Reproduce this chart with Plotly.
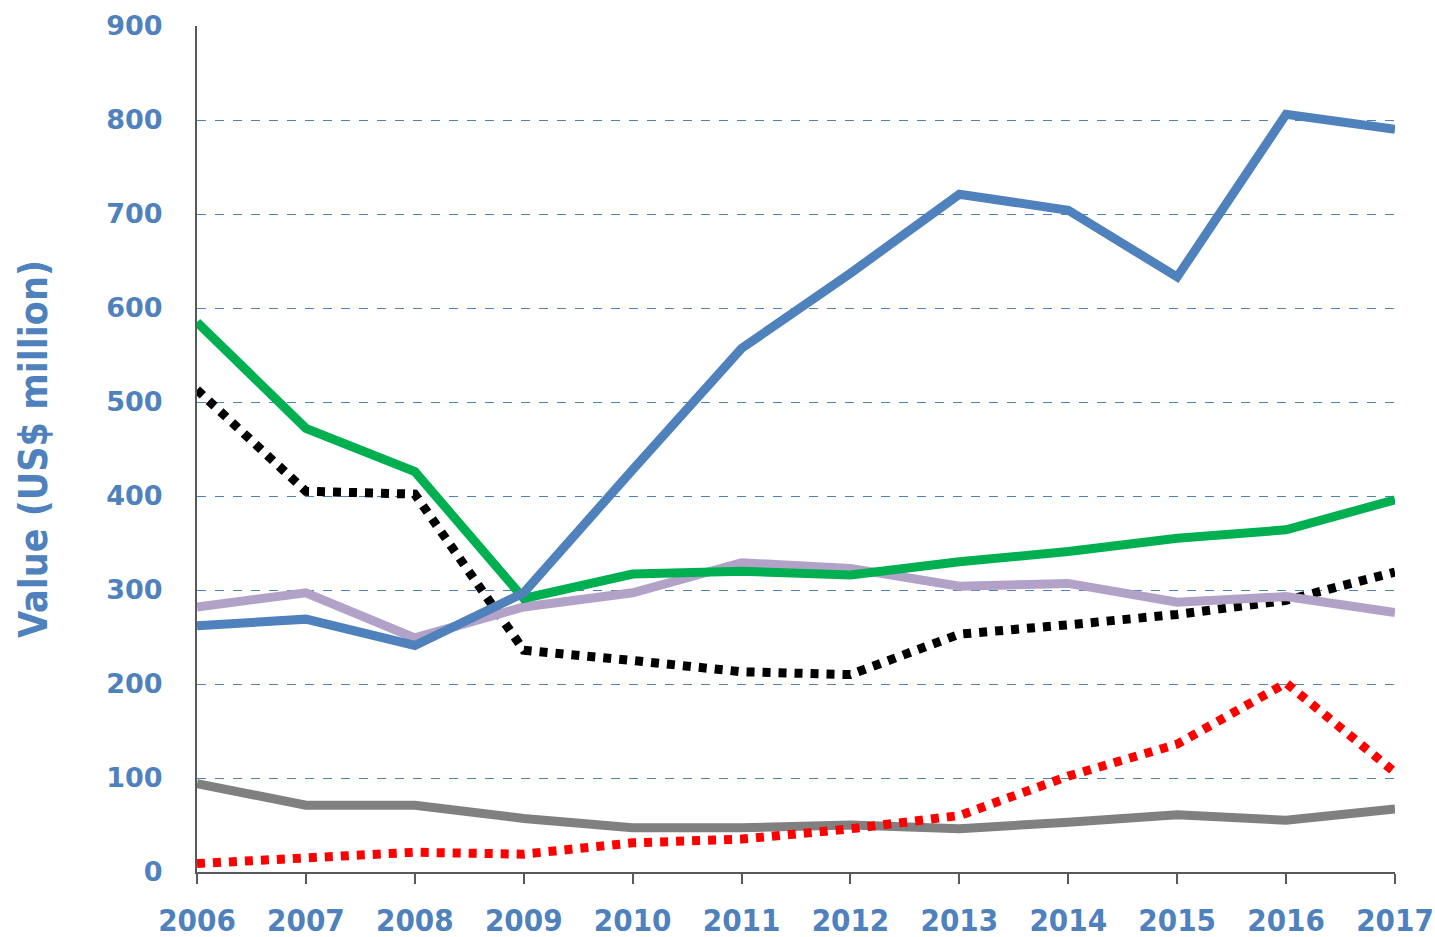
import plotly.graph_objects as go

years = list(range(2006, 2018))

blue_vals = [262, 269, 241, 297, 428, 557, 637, 721, 704, 633, 806, 790]
green_vals = [585, 472, 426, 291, 317, 320, 316, 330, 341, 355, 364, 396]
purple_vals = [282, 297, 249, 282, 297, 329, 323, 304, 307, 287, 293, 276]
black_vals = [513, 405, 402, 236, 225, 213, 210, 253, 263, 274, 289, 319]
red_vals = [9, 14, 21, 19, 31, 35, 46, 60, 102, 136, 201, 106]
gray_vals = [94, 71, 71, 57, 47, 47, 50, 46, 53, 61, 55, 67]

y_ticks = [0, 100, 200, 300, 400, 500, 600, 700, 800, 900]
y_title = "Value (US$ million)"

BLUE = "#4F81BD"

series = [
    (gray_vals, "#808080", "solid"),
    (red_vals, "#FF0000", "8px,8px"),
    (black_vals, "#000000", "8px,8px"),
    (purple_vals, "#B3A2C7", "solid"),
    (green_vals, "#00B050", "solid"),
    (blue_vals, BLUE, "solid"),
]

fig = go.Figure()
for vals, color, dash in series:
    fig.add_trace(go.Scatter(
        x=years, y=vals, mode="lines",
        line=dict(color=color, width=9, dash=dash),
        showlegend=False, hoverinfo="skip", cliponaxis=False,
    ))

fig.update_layout(
    width=1435, height=937, autosize=False,
    plot_bgcolor="white",
    paper_bgcolor="white",
    margin=dict(l=197, r=40, t=26, b=65),
    showlegend=False,
)

fig.update_xaxes(
    range=[2006, 2017], automargin=False,
    tickmode="array", tickvals=years, ticktext=[str(y) for y in years],
    showgrid=False,
    showline=True, linecolor="#595959", linewidth=2,
    ticks="outside", ticklen=10, tickwidth=1.5, tickcolor="#595959",
    ticklabeloverflow="allow", ticklabelstandoff=10,
    tickfont=dict(family="Liberation Sans Narrow, Arial Narrow, DejaVu Sans Condensed", size=31, color=BLUE, weight="bold"),
    zeroline=False,
)

fig.update_yaxes(
    range=[0, 900], automargin=False,
    tickmode="array", tickvals=y_ticks, ticktext=[str(v) for v in y_ticks],
    showgrid=True, gridcolor=BLUE, gridwidth=1, griddash="dash",
    showline=True, linecolor="#595959", linewidth=2,
    ticks="", ticklabelstandoff=27,
    tickfont=dict(family="DejaVu Sans", size=27, color=BLUE, weight="bold"),
    zeroline=False,
    title=dict(text=y_title, font=dict(family="Liberation Sans Narrow, Arial Narrow, DejaVu Sans Condensed", size=39, color=BLUE, weight="bold"), standoff=47),
)

fig.write_html(
    "out.html",
    config={"displayModeBar": False},
    post_script="document.body.style.margin='0';document.body.style.overflow='hidden';",
)
